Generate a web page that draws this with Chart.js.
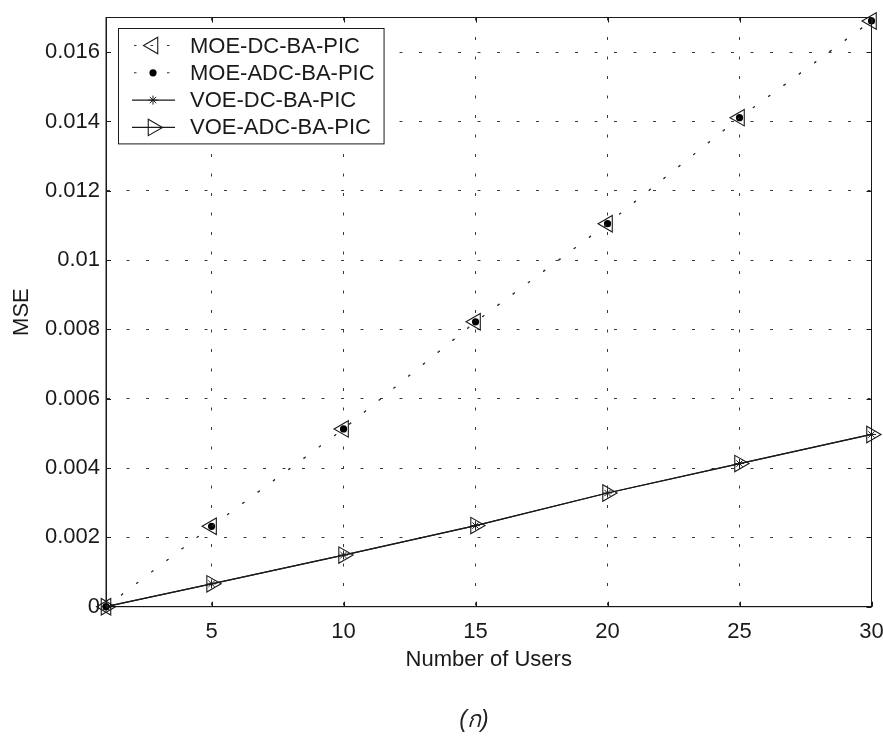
<!DOCTYPE html>
<html>
<head>
<meta charset="utf-8">
<script src="https://cdn.jsdelivr.net/npm/chart.js@4/dist/chart.umd.min.js"></script>
<style>
  html, body { margin: 0; padding: 0; background: #ffffff; }
  #wrap { position: relative; width: 883px; height: 736px; overflow: hidden; }
  #caption {
    position: absolute; left: 424px; width: 100px; top: 704px; text-align: center;
    font-family: "Liberation Sans", "DejaVu Sans", "Noto Sans", sans-serif;
    font-style: italic; font-size: 23px; line-height: 30px; color: #222;
  }
</style>
</head>
<body>
<div id="wrap">
  <canvas id="chart" width="883" height="736"></canvas>
  <div id="caption">(ก)</div>
</div>
<script>
// ---- data ----
const users = [1, 5, 10, 15, 20, 25, 30];
const moeDC  = [0, 0.00232, 0.00513, 0.00822, 0.01105, 0.01411, 0.0169];
const moeADC = [0, 0.00232, 0.00513, 0.00822, 0.01105, 0.01411, 0.0169];
const voeDC  = [0, 0.00066, 0.00149, 0.00234, 0.00328, 0.00413, 0.00497];
const voeADC = [0, 0.00066, 0.00149, 0.00234, 0.00328, 0.00413, 0.00497];
const seriesLabels = ['MOE-DC-BA-PIC', 'MOE-ADC-BA-PIC', 'VOE-DC-BA-PIC', 'VOE-ADC-BA-PIC'];
const xTickValues = [5, 10, 15, 20, 25, 30];
const xTickLabels = ['5', '10', '15', '20', '25', '30'];
const yTickValues = [0, 0.002, 0.004, 0.006, 0.008, 0.01, 0.012, 0.014, 0.016];
const yTickLabels = ['0', '0.002', '0.004', '0.006', '0.008', '0.01', '0.012', '0.014', '0.016'];
const xTitle = 'Number of Users';
const yTitle = 'MSE';

const FONT = '"Liberation Sans", Arial, Helvetica, sans-serif';
const INK = '#1a1a1a';
const dotted = [2.5, 16.5];

function pts(ys) { return users.map((u, i) => ({ x: u, y: ys[i] })); }

const datasets = [
  { label: seriesLabels[0], data: pts(moeDC), borderColor: '#333', borderWidth: 1.1, borderDash: dotted,
    pointStyle: 'triangle', pointRotation: -90, pointRadius: 9.5, pointBorderWidth: 1.1,
    pointBackgroundColor: 'rgba(0,0,0,0)', pointBorderColor: INK },
  { label: seriesLabels[1], data: pts(moeADC), borderColor: '#333', borderWidth: 1.1, borderDash: dotted,
    pointStyle: 'circle', pointRadius: 3.6, pointBorderWidth: 0,
    pointBackgroundColor: '#000', pointBorderColor: '#000' },
  { label: seriesLabels[2], data: pts(voeDC), borderColor: INK, borderWidth: 1.2,
    pointStyle: 'star', pointRadius: 4.5, pointBorderWidth: 1,
    pointBackgroundColor: 'rgba(0,0,0,0)', pointBorderColor: INK },
  { label: seriesLabels[3], data: pts(voeADC), borderColor: INK, borderWidth: 1.2,
    pointStyle: 'triangle', pointRotation: 90, pointRadius: 9.5, pointBorderWidth: 1.1,
    pointBackgroundColor: 'rgba(0,0,0,0)', pointBorderColor: INK }
].map(d => Object.assign({ showLine: true, tension: 0, fill: false, clip: false }, d));

// box + inward tick marks (MATLAB style)
const framePlugin = {
  id: 'frame',
  afterDatasetsDraw(chart) {
    const { ctx, chartArea: a, scales } = chart;
    ctx.save();
    ctx.strokeStyle = INK;
    ctx.lineWidth = 1;
    ctx.setLineDash([]);
    ctx.strokeRect(a.left, a.top, a.right - a.left, a.bottom - a.top);
    const L = 5;
    ctx.beginPath();
    scales.x.ticks.forEach(t => {
      const px = Math.round(scales.x.getPixelForValue(t.value)) + 0.5;
      ctx.moveTo(px, a.bottom); ctx.lineTo(px, a.bottom - L);
      ctx.moveTo(px, a.top); ctx.lineTo(px, a.top + L);
    });
    scales.y.ticks.forEach(t => {
      const py = Math.round(scales.y.getPixelForValue(t.value)) + 0.5;
      ctx.moveTo(a.left, py); ctx.lineTo(a.left + L, py);
      ctx.moveTo(a.right, py); ctx.lineTo(a.right - L, py);
    });
    ctx.stroke();
    ctx.restore();
  }
};

// MATLAB-like legend box drawn in the upper-left of the axes
const legendPlugin = {
  id: 'matlabLegend',
  afterDraw(chart) {
    const { ctx } = chart;
    const left = 118, top = 28, rowH = 27.3, firstRow = 45.5;
    const lineX0 = 132, lineX1 = 175, markX = 153, textX = 190;
    ctx.save();
    ctx.font = '22px ' + FONT;
    let maxW = 0;
    chart.data.datasets.forEach(d => { maxW = Math.max(maxW, ctx.measureText(d.label).width); });
    const right = textX + maxW + 9;
    const bottom = firstRow + rowH * 3 + 16;
    ctx.fillStyle = '#fff';
    ctx.fillRect(left, top, right - left, bottom - top);
    ctx.strokeStyle = INK; ctx.lineWidth = 1; ctx.setLineDash([]);
    ctx.strokeRect(left + 0.5, top + 0.5, right - left, bottom - top);
    chart.data.datasets.forEach((d, i) => {
      const y = firstRow + i * rowH;
      ctx.save();
      ctx.strokeStyle = d.borderColor; ctx.lineWidth = d.borderWidth;
      ctx.setLineDash(d.borderDash ? [2.5, 14] : []);
      ctx.lineDashOffset = d.borderDash ? -2 : 0;
      ctx.beginPath(); ctx.moveTo(lineX0, y); ctx.lineTo(lineX1, y); ctx.stroke();
      ctx.restore();
      ctx.save();
      ctx.setLineDash([]);
      ctx.strokeStyle = d.pointBorderColor; ctx.fillStyle = d.pointBackgroundColor;
      ctx.lineWidth = d.pointBorderWidth || 1;
      Chart.helpers.drawPoint(ctx, { pointStyle: d.pointStyle, rotation: d.pointRotation || 0,
        radius: d.pointRadius, borderWidth: d.pointBorderWidth }, markX, y);
      ctx.restore();
      ctx.fillStyle = INK; ctx.textBaseline = 'middle'; ctx.textAlign = 'left';
      ctx.fillText(d.label, textX, y + 1);
    });
    ctx.restore();
  }
};

new Chart(document.getElementById('chart'), {
  type: 'scatter',
  data: { datasets },
  plugins: [framePlugin, legendPlugin],
  options: {
    responsive: false,
    animation: false,
    devicePixelRatio: 1,
    layout: { padding: { top: 17.5, right: 0, left: 0, bottom: 0 } },
    plugins: { legend: { display: false }, tooltip: { enabled: false } },
    scales: {
      x: {
        type: 'linear', min: 1, max: 30,
        afterBuildTicks: s => { s.ticks = xTickValues.map(v => ({ value: v })); },
        afterFit: s => { s.height = 736 - 606.7; s.paddingRight = 11.5; s.paddingLeft = 0; },
        ticks: { callback: (v) => xTickLabels[xTickValues.indexOf(v)], font: { family: FONT, size: 22 },
                 color: INK, padding: 12, maxRotation: 0, autoSkip: false },
        grid: { color: '#3a3a3a', lineWidth: 1, drawTicks: false },
        border: { display: true, color: INK, width: 1, dash: [3, 16.5] },
        title: { display: true, text: xTitle, font: { family: FONT, size: 22 }, color: INK,
                 padding: { top: 0, bottom: 62.8 } }
      },
      y: {
        type: 'linear', min: 0, max: 0.017,
        afterBuildTicks: s => { s.ticks = yTickValues.map(v => ({ value: v })); },
        afterFit: s => { s.width = 106; s.paddingTop = 0; s.paddingBottom = 0; },
        ticks: { callback: (v) => { const i = yTickValues.findIndex(t => Math.abs(t - v) < 1e-9); return i >= 0 ? yTickLabels[i] : ''; },
                 font: { family: FONT, size: 22 }, color: INK, padding: 6, autoSkip: false },
        grid: { color: '#3a3a3a', lineWidth: 1, drawTicks: false },
        border: { display: true, color: INK, width: 1, dash: [3, 16.5] },
        title: { display: true, text: yTitle, font: { family: FONT, size: 22 }, color: INK,
                 padding: { top: 9, bottom: 0 } }
      }
    }
  }
});
</script>
</body>
</html>
